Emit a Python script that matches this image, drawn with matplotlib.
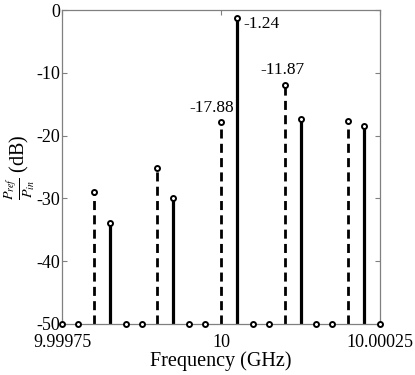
import matplotlib
matplotlib.use("Agg")
import matplotlib.pyplot as plt

# frequencies in GHz, powers in dB
freq_dashed = [9.999800, 9.999900, 10.000000, 10.000100, 10.000200]
p_dashed = [-29.0, -25.2, -17.88, -11.87, -17.7]

freq_solid = [9.999825, 9.999925, 10.000025, 10.000125, 10.000225]
p_solid = [-33.9, -29.9, -1.24, -17.4, -18.5]

freq_floor = [9.999750, 9.999775, 9.999850, 9.999875, 9.999950, 9.999975,
              10.000050, 10.000075, 10.000150, 10.000175, 10.000250]
p_floor = [-50] * len(freq_floor)

# peaks that get a value label: (freq, value, text, offset in points, ha)
labels = [(10.000025, -1.24, "-1.24", (4.8, -4.6), "left"),
          (10.000100, -11.87, "-11.87", (-1.5, 10.2), "center"),
          (10.000000, -17.88, "-17.88", (-7.0, 10.6), "center")]

xticks = [9.99975, 10.0, 10.00025]
xticklabels = ["9.99975", "10", "10.00025"]
yticks = [0, -10, -20, -30, -40, -50]
yticklabels = ["0", "-10", "-20", "-30", "-40", "-50"]

plt.rcParams['font.family'] = ['Liberation Serif', 'DejaVu Serif']
plt.rcParams['mathtext.fontset'] = 'stix'
plt.rcParams['lines.scale_dashes'] = False

fig = plt.figure(figsize=(4.15, 3.75), dpi=100)
ax = fig.add_axes([0.1494, 0.136, 0.7663, 0.8373])

def draw(x, y, style, lw):
    m, s, b = ax.stem(x, y, bottom=-50, linefmt='k' + style, markerfmt='ko', basefmt=' ')
    s.set_linewidth(lw)
    if style == '--':
        s.set_linestyle((0, (6.5, 3.8)))
    m.set_markerfacecolor('white')
    m.set_markeredgecolor('black')
    m.set_markersize(3.6)
    m.set_markeredgewidth(1.4)
    m.set_zorder(4)
    m.set_clip_on(False)

draw(freq_dashed, p_dashed, '--', 2.0)
draw(freq_solid, p_solid, '-', 2.3)
ax.plot(freq_floor, p_floor, 'o', color='black', mfc='white', ms=3.6, mew=1.4,
        zorder=4, clip_on=False)

for f, v, t, off, ha in labels:
    ax.annotate(t, xy=(f, v), xytext=off, textcoords='offset points',
                ha=ha, va='center', fontsize=12.5)

ax.set_xlim(9.99975, 10.00025)
ax.set_ylim(-50, 0)
ax.set_xticks(xticks)
ax.set_xticklabels(xticklabels, fontsize=13)
ax.set_yticks(yticks)
ax.set_yticklabels(yticklabels, fontsize=13)
ax.tick_params(direction='in', top=True, right=True, length=3.5,
               color='#808080')
ax.tick_params(axis='x', pad=7.5)
ax.tick_params(axis='y', pad=1)
for sp in ax.spines.values():
    sp.set_color('#808080')
    sp.set_linewidth(0.9)

ax.set_xlabel('Frequency (GHz)', fontsize=14.5, labelpad=0)
ax.set_ylabel(r'$\frac{P_{ref}}{P_{in}}$ (dB)', fontsize=14.5, labelpad=0)

fig.savefig('out.png', dpi=100)
